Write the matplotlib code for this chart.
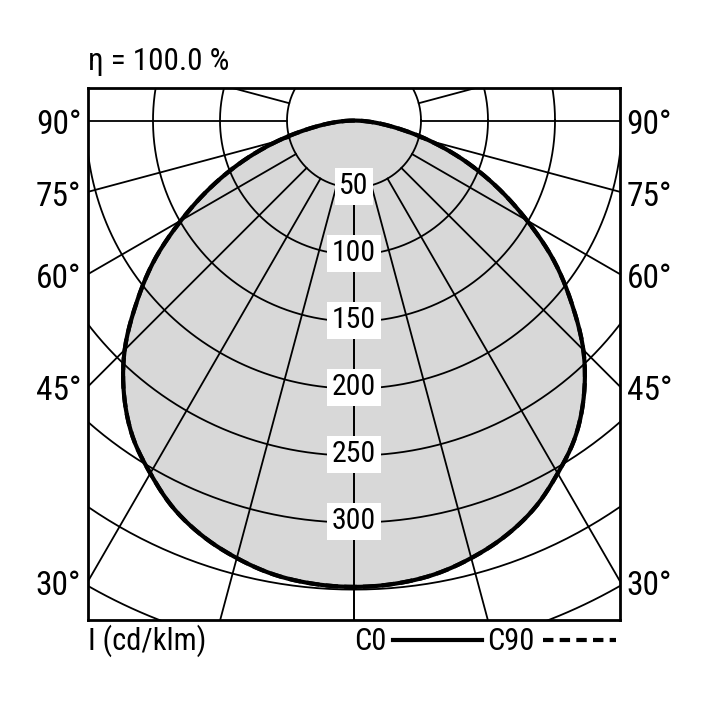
import numpy as np
import matplotlib
matplotlib.use("Agg")
import matplotlib.pyplot as plt

plt.rcParams['font.family'] = ['Roboto Condensed', 'DejaVu Sans']

# luminous intensity (cd/klm), gamma from nadir
gamma = [0, 5, 10, 15, 20, 25, 30, 35, 40, 45, 50, 55, 60, 65, 70, 75, 80, 85, 90]
c0 = [348, 347, 344, 338, 330, 319, 304, 288, 267, 242, 212, 182, 149, 118, 88, 59, 33, 14, 0]
c90 = [348, 347, 344, 338, 330, 319, 304, 288, 267, 242, 212, 182, 149, 118, 88, 59, 33, 14, 0]

ring_values = [50, 100, 150, 200, 250, 300, 350, 400, 450]
ring_labels = ['50', '100', '150', '200', '250', '300']
ray_angles = [0, 15, 30, 45, 60, 75, 90, 105, 120]
side_labels = [90, 75, 60, 45, 30]

W = 708
fig = plt.figure(figsize=(7.08, 7.08), dpi=100)
ax = fig.add_axes([88 / W, (W - 620) / W, 532 / W, 532 / W])
xmax = 198.5
ytop = 24.3
ax.set_xlim(-xmax, xmax)
ax.set_ylim(ytop - 2 * xmax, ytop)
ax.set_aspect('equal')
ax.set_xticks([])
ax.set_yticks([])
for s in ax.spines.values():
    s.set_linewidth(2.0)
    s.set_zorder(10)


def smooth(vals, n=12):
    # catmull-rom through the read points, only for drawing
    g = np.array(gamma, dtype=float)
    v = np.array(vals, dtype=float)
    gg, vv = [], []
    for i in range(len(g) - 1):
        p0 = v[i - 1] if i > 0 else v[1]
        p3 = v[i + 2] if i + 2 < len(v) else 2 * v[-1] - v[-2]
        p1, p2 = v[i], v[i + 1]
        for s in np.linspace(0, 1, n, endpoint=False):
            vv.append(0.5 * (2 * p1 + (p2 - p0) * s + (2 * p0 - 5 * p1 + 4 * p2 - p3) * s ** 2
                             + (3 * p1 - p0 - 3 * p2 + p3) * s ** 3))
            gg.append(g[i] + s * (g[i + 1] - g[i]))
    gg.append(g[-1])
    vv.append(v[-1])
    return np.radians(gg), np.clip(vv, 0, None)


def outline(vals):
    g, v = smooth(vals)
    xr, yr = v * np.sin(g), -v * np.cos(g)
    return np.concatenate([-xr[::-1], xr]), np.concatenate([yr[::-1], yr])


xs, ys = outline(c0)
ax.fill(xs, ys, color='#d8d8d8', zorder=1, lw=0)

# grid rings and rays
t = np.linspace(0, 2 * np.pi, 721)
for r in ring_values:
    ax.plot(r * np.cos(t), r * np.sin(t), color='black', lw=1.3, zorder=2)
r0 = ring_values[0]
for a in ray_angles:
    ar = np.radians(a)
    for sgn in (1, -1):
        ax.plot([sgn * r0 * np.sin(ar), sgn * 700 * np.sin(ar)],
                [-r0 * np.cos(ar), -700 * np.cos(ar)],
                color='black', lw=1.3, zorder=2)

ax.plot(xs, ys, color='black', lw=3.0, zorder=3, solid_capstyle='butt')
x9, y9 = outline(c90)
ax.plot(x9, y9, color='black', lw=3.0, ls=(0, (3, 1.5)), zorder=3)

# ring value labels along the nadir line
for i, lab in enumerate(ring_labels):
    ax.text(0, -ring_values[i] + 1, lab, ha='center', va='center', fontsize=21.5,
            zorder=5, bbox=dict(boxstyle='square,pad=0.15', fc='white', ec='none'))

# angle labels where the rays meet the frame
for a in side_labels:
    yh = -xmax / np.tan(np.radians(a)) if a != 90 else 0.0
    ax.text(-xmax - 5, yh - 3.5, f'{a}°', ha='right', va='center', fontsize=24, clip_on=False)
    ax.text(xmax + 5, yh - 3.5, f'{a}°', ha='left', va='center', fontsize=24, clip_on=False)

fig.text(88 / W, 1 - 61 / W, 'η = 100.0 %', ha='left', va='center', fontsize=22.5)
fig.text(88 / W, 1 - 641 / W, 'I (cd/klm)', ha='left', va='center', fontsize=22)
fig.text(354 / W, 1 - 641 / W, 'C0', ha='left', va='center', fontsize=22)
fig.lines.append(plt.Line2D([393 / W, 482 / W], [1 - 640 / W] * 2, transform=fig.transFigure,
                            color='black', lw=3))
fig.text(487 / W, 1 - 641 / W, 'C90', ha='left', va='center', fontsize=22)
fig.lines.append(plt.Line2D([543 / W, 616 / W], [1 - 640 / W] * 2, transform=fig.transFigure,
                            color='black', lw=3, ls=(0, (2.5, 1.5))))

fig.savefig('out.png', dpi=100)
